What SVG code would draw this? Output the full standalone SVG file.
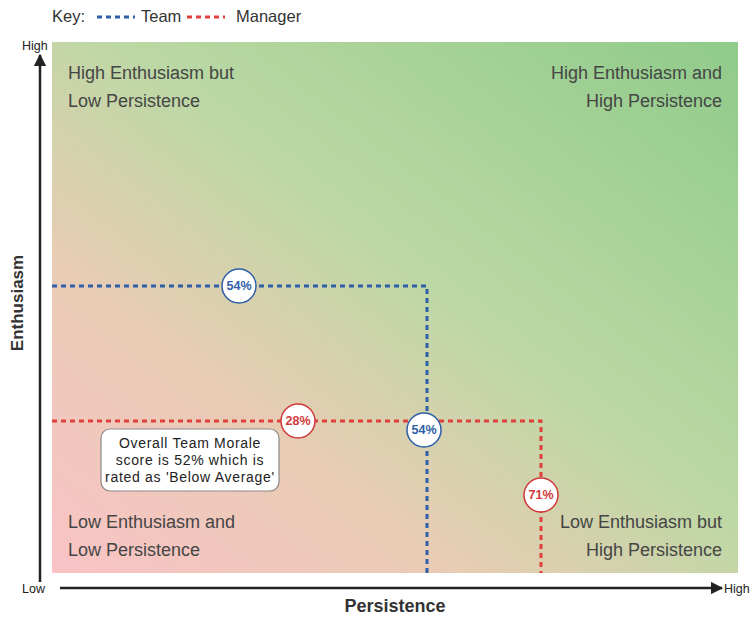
<svg xmlns="http://www.w3.org/2000/svg" width="754" height="619" viewBox="0 0 754 619">
<style>
text{font-family:"Liberation Sans",Arial,sans-serif}
.q{font-size:18px;fill:#454545}
.ax{font-size:12.5px;fill:#222}
.key{font-size:16.5px;fill:#333}
.title{font-weight:bold;fill:#333}
.team{stroke:#2f5fa8;stroke-width:3;stroke-dasharray:5 4;fill:none}
.mgr{stroke:#e0403c;stroke-width:3;stroke-dasharray:5 4;fill:none}
.circ{fill:#fff;stroke-width:1.5}
.pt{font-size:12.5px;font-weight:bold;text-anchor:middle}
.call{font-size:14px;letter-spacing:0.7px;fill:#222;text-anchor:middle}
</style>
<defs>
<linearGradient id="bg" x1="0" y1="1" x2="1" y2="0">
<stop offset="0" stop-color="#fac3c6"/>
<stop offset="0.3" stop-color="#e8ccb4"/>
<stop offset="0.55" stop-color="#bcd8a4"/>
<stop offset="1" stop-color="#8fcb8a"/>
</linearGradient>
<marker id="ah" viewBox="0 0 10 10" refX="9" refY="5" markerWidth="5" markerHeight="5" orient="auto">
<path d="M0,0 L10,5 L0,10 z" fill="#222"/>
</marker>
</defs>
<rect width="754" height="619" fill="#fff"/>
<g id="key">
<text x="52" y="22" class="key">Key:</text>
<line x1="97" y1="17" x2="135" y2="17" class="team"/>
<text x="141" y="22" class="key">Team</text>
<line x1="187" y1="17" x2="225" y2="17" class="mgr"/>
<text x="236" y="22" class="key">Manager</text>
</g>
<g id="plot">
<rect x="52" y="42" width="686" height="531" fill="url(#bg)"/>
</g>
<g id="axes">
<line x1="40" y1="582" x2="40" y2="55" stroke="#222" stroke-width="2.5" marker-end="url(#ah)"/>
<line x1="60" y1="588" x2="722" y2="588" stroke="#222" stroke-width="2.5" marker-end="url(#ah)"/>
<text x="22" y="50" class="ax">High</text>
<text x="22" y="593" class="ax">Low</text>
<text x="724" y="593" class="ax">High</text>
<text x="0" y="0" class="title" style="font-size:17px" text-anchor="middle" transform="translate(23,303) rotate(-90)">Enthusiasm</text>
<text x="395" y="612" class="title" style="font-size:18px" text-anchor="middle">Persistence</text>
</g>
<g id="quadrants">
<text x="68" y="79" class="q">High Enthusiasm but</text>
<text x="68" y="107" class="q">Low Persistence</text>
<text x="722" y="79" class="q" text-anchor="end">High Enthusiasm and</text>
<text x="722" y="107" class="q" text-anchor="end">High Persistence</text>
<text x="68" y="528" class="q">Low Enthusiasm and</text>
<text x="68" y="556" class="q">Low Persistence</text>
<text x="722" y="528" class="q" text-anchor="end">Low Enthusiasm but</text>
<text x="722" y="556" class="q" text-anchor="end">High Persistence</text>
</g>
<g id="connectors">
<path d="M52,286 H427 V573" class="team"/>
<path d="M52,421 H541 V573" class="mgr"/>
</g>
<g id="callout">
<rect x="101" y="429" width="178" height="62" rx="9" fill="#fff" stroke="#8a8a8a" stroke-width="1.2"/>
<text x="190" y="448" class="call">Overall Team Morale</text>
<text x="190" y="465" class="call">score is 52% which is</text>
<text x="190" y="482" class="call">rated as 'Below Average'</text>
</g>
<g id="team-enthusiasm">
<circle cx="239" cy="286" r="17" class="circ" stroke="#2f5fa8"/>
<text x="239" y="290" class="pt" fill="#2f5fa8">54%</text>
</g>
<g id="team-persistence">
<circle cx="424" cy="430" r="17" class="circ" stroke="#2f5fa8"/>
<text x="424" y="434" class="pt" fill="#2f5fa8">54%</text>
</g>
<g id="manager-enthusiasm">
<circle cx="298" cy="421" r="17" class="circ" stroke="#d03a3a"/>
<text x="298" y="425" class="pt" fill="#d03a3a">28%</text>
</g>
<g id="manager-persistence">
<circle cx="541" cy="495" r="17" class="circ" stroke="#d03a3a"/>
<text x="541" y="499" class="pt" fill="#d03a3a">71%</text>
</g>
</svg>
